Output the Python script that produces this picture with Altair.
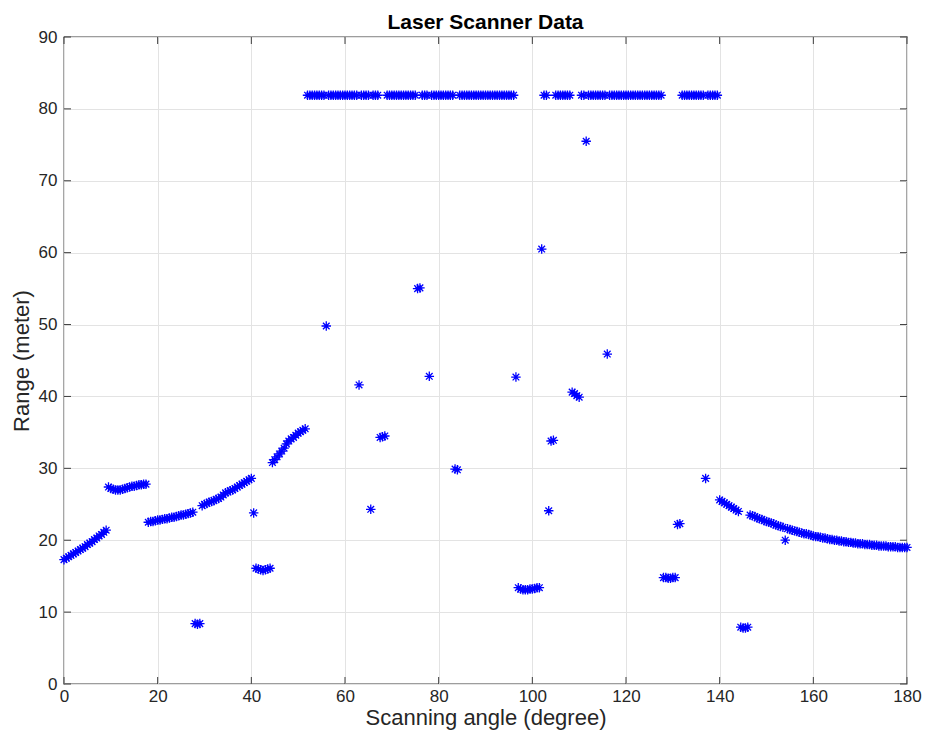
import altair as alt
import pandas as pd

# ---- data: laser scan, 0.5 degree steps; each segment = (start angle, ranges) ----
STEP = 0.5
TOP = 81.9  # out-of-range readings

seg_a = [17.3, 17.5, 17.7, 17.9, 18.1, 18.3, 18.5, 18.7, 18.9, 19.1, 19.4, 19.6,
         19.8, 20.1, 20.3, 20.6, 20.8, 21.1, 21.4]
seg_b = [27.4, 27.2, 27.1, 27.0, 27.0, 27.0, 27.1, 27.2, 27.3, 27.4, 27.5, 27.5,
         27.6, 27.7, 27.7, 27.8, 27.8]
seg_c = [22.5, 22.6, 22.6, 22.7, 22.8, 22.8, 22.9, 23.0, 23.0, 23.1, 23.2, 23.2,
         23.3, 23.4, 23.5, 23.5, 23.6, 23.7, 23.8, 23.9]
seg_d = [8.4, 8.3, 8.4]
seg_e = [24.8, 25.0, 25.1, 25.3, 25.4, 25.5, 25.7, 25.8, 26.0, 26.3, 26.6, 26.7,
         26.9, 27.0, 27.2, 27.4, 27.6, 27.8, 28.0, 28.2, 28.4, 28.6]
seg_f = [23.8]
seg_g = [16.1, 16.0, 15.9, 15.8, 15.9, 16.0, 16.1]
seg_h = [30.8, 31.2, 31.6, 32.0, 32.4, 32.8, 33.4, 33.8, 34.1, 34.3, 34.6, 34.9,
         35.1, 35.3, 35.5]
seg_mid = ([TOP] * 8 + [49.8] + [TOP] * 13 + [41.6] + [TOP] * 4 + [24.3]
           + [TOP] * 3 + [34.3, 34.4, 34.5] + [TOP] * 13 + [55.0, 55.1]
           + [TOP] * 3 + [42.8] + [TOP] * 10 + [29.9, 29.8] + [TOP] * 24
           + [42.7] + [13.4, 13.2, 13.1, 13.1, 13.1, 13.2, 13.2, 13.3, 13.4, 13.4]
           + [60.5] + [TOP] * 2 + [24.1] + [33.8, 33.9] + [TOP] * 7
           + [40.6, 40.4, 40.1, 39.9] + [TOP] * 2 + [75.5] + [TOP] * 8 + [45.9]
           + [TOP] * 23 + [14.8, 14.8, 14.7, 14.7, 14.8, 14.8] + [22.2, 22.3]
           + [TOP] * 10 + [28.6] + [TOP] * 5)
seg_i = [25.6, 25.4, 25.2, 25.0, 24.8, 24.6, 24.4, 24.2, 24.0]
seg_j = [7.9, 7.8, 7.8, 7.9]
seg_k = [23.5, 23.4, 23.3, 23.1, 23.0, 22.9, 22.7, 22.6, 22.5, 22.4, 22.3, 22.1,
         22.0, 21.9, 21.8, 20.0, 21.6, 21.5, 21.4, 21.3, 21.2, 21.1, 21.0, 20.9,
         20.9, 20.8, 20.7, 20.6, 20.5, 20.5, 20.4, 20.3, 20.3, 20.2, 20.1, 20.1,
         20.0, 20.0, 19.9, 19.9, 19.8, 19.8, 19.7, 19.7, 19.6, 19.6, 19.5, 19.5,
         19.5, 19.4, 19.4, 19.4, 19.3, 19.3, 19.3, 19.2, 19.2, 19.2, 19.2, 19.1,
         19.1, 19.1, 19.1, 19.0, 19.0, 19.0, 19.0, 19.0]

segments = [(0.0, seg_a), (9.5, seg_b), (18.0, seg_c), (28.0, seg_d), (29.5, seg_e),
            (40.5, seg_f), (41.0, seg_g), (44.5, seg_h), (52.0, seg_mid),
            (140.0, seg_i), (144.5, seg_j), (146.5, seg_k)]

x_ticks = list(range(0, 181, 20))
y_ticks = list(range(0, 91, 10))

rows = []
for start, vals in segments:
    for i, v in enumerate(vals):
        rows.append({"angle": start + STEP * i, "range": v})
df = pd.DataFrame(rows)

W, H = 843, 647
FONT = "Liberation Sans"
TXT = "#262626"
FRAME = "#3c3c3c"
TL = 7

xs = alt.Scale(domain=[0, 180], nice=False, zero=False)
ys = alt.Scale(domain=[0, 90], nice=False, zero=False)

asterisk = "M-1,0L1,0M0,-1L0,1M-0.7,-0.7L0.7,0.7M-0.7,0.7L0.7,-0.7"

points = alt.Chart(df).mark_point(
    shape=asterisk, filled=False, color="#0000ff", size=90, strokeWidth=1.3, opacity=1
).encode(
    x=alt.X("angle:Q", scale=xs,
            axis=alt.Axis(values=x_ticks, title="Scanning angle (degree)", format="d",
                          labelPadding=4, titlePadding=3, labelFlush=False)),
    y=alt.Y("range:Q", scale=ys,
            axis=alt.Axis(values=y_ticks, title="Range (meter)", format="d",
                          labelPadding=7, titlePadding=5, labelFlush=False)),
)

xt = pd.DataFrame({"t": x_ticks})
yt = pd.DataFrame({"t": y_ticks})

xb = alt.Chart(xt).mark_rule(color=FRAME, strokeWidth=1).encode(
    x=alt.X("t:Q", scale=xs), y=alt.value(H), y2=alt.value(H - TL))
xtop = alt.Chart(xt).mark_rule(color=FRAME, strokeWidth=1).encode(
    x=alt.X("t:Q", scale=xs), y=alt.value(0), y2=alt.value(TL))
yl = alt.Chart(yt).mark_rule(color=FRAME, strokeWidth=1).encode(
    y=alt.Y("t:Q", scale=ys), x=alt.value(0), x2=alt.value(TL))
yr = alt.Chart(yt).mark_rule(color=FRAME, strokeWidth=1).encode(
    y=alt.Y("t:Q", scale=ys), x=alt.value(W - TL), x2=alt.value(W))

chart = alt.layer(points, xb, xtop, yl, yr).properties(
    width=W, height=H,
    background="white",
    title=alt.TitleParams("Laser Scanner Data", font=FONT, fontSize=21,
                          fontWeight="bold", color="#000000", offset=-5, anchor="middle"),
    autosize=alt.AutoSizeParams(type="none"),
    padding={"left": 56, "top": 29, "right": 15, "bottom": 52},
).configure_view(
    stroke=FRAME, strokeWidth=1.3
).configure_axis(
    grid=True, gridColor="#e3e3e3", gridWidth=1,
    domain=False, ticks=False,
    labelFont=FONT, labelFontSize=17, labelColor=TXT,
    titleFont=FONT, titleFontSize=22, titleColor=TXT, titleFontWeight="normal",
)

chart.save("out.html", embed_options={"renderer": "svg", "actions": False})
